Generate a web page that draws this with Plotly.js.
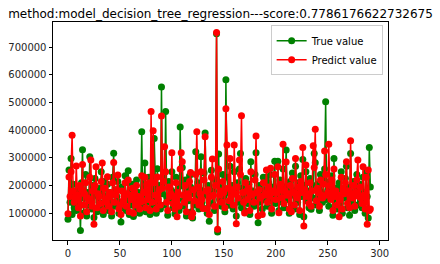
<!DOCTYPE html>
<html><head><meta charset="utf-8">
<script src="https://cdn.plot.ly/plotly-3.0.1.min.js"></script>
<style>html,body{margin:0;padding:0;background:#fff}#chart{width:440px;height:264px}</style>
</head><body><div id="chart"></div>
<script>
const chartTitle = "method:model_decision_tree_regression---score:0.7786176622732675";
const seriesNames = ["True value", "Predict value"];
const trueValues = [
78000,256000,140000,298000,95000,205000,120000,170000,110000,185000,
135000,160000,38000,210000,329000,100000,155000,240000,90000,175000,
130000,304000,145000,115000,200000,85000,225000,165000,105000,190000,
140000,120000,250000,180000,95000,215000,130000,160000,205000,110000,
175000,145000,90000,230000,317000,125000,185000,160000,215000,100000,
140000,68000,195000,120000,170000,235000,110000,150000,253000,95000,
180000,130000,205000,88000,160000,140000,220000,115000,175000,100000,
150000,394000,125000,190000,281000,105000,165000,140000,230000,95000,
210000,150000,120000,370000,180000,100000,261000,135000,200000,115000,
556000,170000,240000,130000,467000,160000,93000,215000,145000,185000,
250000,120000,175000,98000,230000,140000,190000,110000,411000,200000,
265000,150000,125000,220000,90000,180000,145000,235000,195000,105000,
83000,170000,130000,322000,155000,210000,115000,185000,304000,140000,
120000,245000,390000,165000,100000,200000,71000,175000,255000,135000,
180000,110000,220000,748000,32000,314000,150000,195000,125000,240000,
160000,105000,582000,230000,175000,129000,270000,145000,200000,115000,
250000,185000,90000,210000,140000,260000,316000,120000,190000,155000,
110000,225000,165000,135000,205000,95000,286000,150000,180000,125000,
240000,318000,160000,66000,200000,140000,175000,115000,230000,150000,
185000,230000,125000,210000,145000,240000,100000,170000,195000,288000,
135000,160000,288000,110000,220000,175000,140000,260000,120000,195000,
328000,150000,180000,100000,215000,130000,245000,165000,115000,270000,
185000,140000,210000,95000,235000,160000,294000,87000,200000,250000,
145000,180000,120000,225000,114000,190000,155000,316000,282000,130000,
205000,165000,110000,240000,175000,140000,220000,260000,503000,150000,
185000,125000,215000,160000,235000,93000,298000,145000,190000,115000,
170000,210000,135000,250000,100000,180000,155000,225000,270000,120000,
195000,93000,316000,160000,140000,215000,110000,185000,240000,130000,
170000,205000,145000,120000,230000,175000,100000,250000,160000,83000,
337000,195000
];
const predictValues = [
98000,231000,160000,250000,382000,180000,140000,150000,271000,165000,
120000,200000,90000,185000,276000,130000,170000,210000,105000,155000,
145000,230000,292000,125000,180000,60000,200000,268000,120000,170000,
160000,135000,215000,281000,110000,190000,150000,140000,232000,125000,
160000,175000,105000,210000,283000,140000,165000,185000,238000,115000,
130000,95000,180000,145000,160000,210000,125000,170000,220000,105000,
165000,150000,190000,100000,175000,130000,200000,135000,160000,115000,
140000,235000,145000,175000,230000,120000,205000,150000,210000,110000,
467000,140000,398000,210000,165000,115000,231000,150000,185000,130000,
451000,190000,215000,340000,250000,140000,110000,195000,160000,170000,
318000,135000,160000,115000,210000,87000,175000,125000,260000,318000,
286000,165000,140000,200000,105000,170000,155000,215000,247000,87000,
100000,185000,145000,240000,394000,195000,130000,170000,250000,150000,
117000,220000,376000,180000,115000,185000,95000,160000,230000,296000,
165000,125000,200000,753000,42000,260000,165000,180000,140000,215000,
175000,120000,477000,346000,190000,145000,298000,160000,185000,130000,
346000,170000,62000,195000,155000,292000,240000,452000,175000,140000,
101000,210000,180000,150000,190000,110000,250000,165000,170000,140000,
220000,379000,175000,90000,185000,155000,160000,95000,210000,165000,
170000,256000,140000,195000,160000,262000,115000,180000,175000,240000,
150000,175000,268000,102000,205000,185000,155000,349000,135000,180000,
285000,165000,170000,115000,200000,105000,225000,175000,130000,298000,
170000,155000,195000,110000,215000,175000,337000,54000,185000,274000,
160000,170000,135000,210000,125000,180000,344000,265000,403000,145000,
190000,175000,125000,220000,165000,155000,205000,325000,240000,165000,
175000,349000,200000,150000,220000,110000,260000,160000,180000,130000,
165000,87000,150000,230000,115000,190000,170000,210000,286000,135000,
180000,120000,362000,170000,155000,200000,125000,175000,220000,292000,
160000,195000,155000,135000,268000,165000,115000,230000,60000,256000,
110000,115000
];
const xIdx = trueValues.map((_, i) => i);
const xTicks = [0, 50, 100, 150, 200, 250, 300];
const yTicks = [100000, 200000, 300000, 400000, 500000, 600000, 700000];

const traces = [
  {x: xIdx, y: trueValues, name: seriesNames[0], type: 'scatter', mode: 'lines+markers',
   line: {color: '#008000', width: 1.5}, marker: {color: '#008000', size: 7}},
  {x: xIdx, y: predictValues, name: seriesNames[1], type: 'scatter', mode: 'lines+markers',
   line: {color: '#ff0000', width: 1.5}, marker: {color: '#ff0000', size: 7}}
];
const axisCommon = {showgrid: false, zeroline: false, showline: true, mirror: true,
  linecolor: '#000', linewidth: 1, ticks: 'outside', ticklen: 3.5, tickwidth: 1, tickcolor: '#000',
  tickfont: {family: 'DejaVu Sans', size: 10, color: '#262626'}};
const layout = {
  width: 440, height: 264,
  margin: {l: 53, r: 52, t: 22, b: 24},
  paper_bgcolor: '#fff', plot_bgcolor: '#fff',
  title: {text: chartTitle, font: {family: 'DejaVu Sans', size: 12, color: '#000'},
          x: 0.5, xref: 'paper', y: 1, yref: 'paper', yanchor: 'bottom', pad: {b: 4}},
  xaxis: Object.assign({}, axisCommon, {range: [-14.4, 308], tickvals: xTicks, ticktext: xTicks.map(String)}),
  yaxis: Object.assign({}, axisCommon, {range: [3300, 790600], tickvals: yTicks, ticktext: yTicks.map(String)}),
  showlegend: true,
  legend: {x: 0.984, y: 0.985, xanchor: 'right', yanchor: 'top', bgcolor: 'rgba(255,255,255,0.8)',
           bordercolor: '#cccccc', borderwidth: 1, font: {family: 'DejaVu Sans', size: 10, color: '#000'},
           itemwidth: 30, tracegroupgap: 0}
};
Plotly.newPlot('chart', traces, layout, {displayModeBar: false, staticPlot: true});
</script></body></html>
